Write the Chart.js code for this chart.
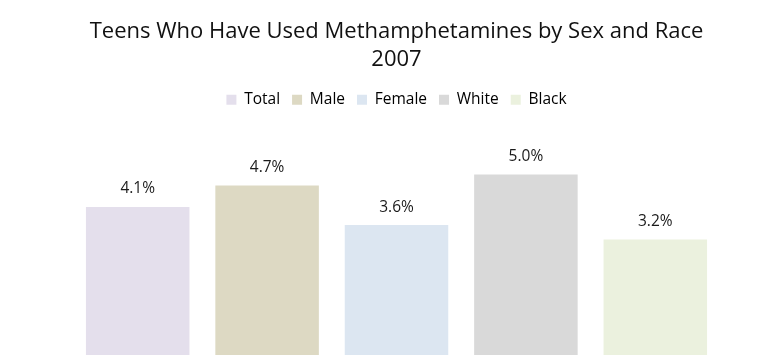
<!DOCTYPE html>
<html>
<head>
<meta charset="utf-8">
<script src="https://cdn.jsdelivr.net/npm/chart.js@4"></script>
<style>
  html, body { margin: 0; padding: 0; background: #ffffff; }
  #wrap { width: 770px; height: 356px; }
</style>
</head>
<body>
<div id="wrap"><canvas id="c" width="770" height="356"></canvas></div>
<script>
const categories = ['Total', 'Male', 'Female', 'White', 'Black'];
const percentUsed = [4.1, 4.7, 3.6, 5.0, 3.2];
const barColors = ['#E4DFEC', '#DDD9C3', '#DCE6F1', '#D9D9D9', '#EBF1DE'];
const titleLines = ['Teens Who Have Used Methamphetamines by Sex and Race', '2007'];

const FONT = '"Open Sans", Lato, sans-serif';

// Writes the percentage above each bar
const valueLabels = {
  id: 'valueLabels',
  afterDatasetsDraw(chart) {
    const ctx = chart.ctx;
    const meta = chart.getDatasetMeta(0);
    ctx.save();
    ctx.font = '15.5px ' + FONT;
    ctx.fillStyle = '#1a1a1a';
    ctx.textAlign = 'center';
    ctx.textBaseline = 'middle';
    meta.data.forEach((bar, i) => {
      ctx.fillText(percentUsed[i].toFixed(1) + '%', bar.x, bar.y - 18);
    });
    ctx.restore();
  }
};

// Extra room below the legend before the bars begin
const legendGap = {
  id: 'legendGap',
  beforeInit(chart) {
    const fit = chart.legend.fit;
    chart.legend.fit = function () {
      fit.call(this);
      this.height += 21;
    };
  }
};

new Chart(document.getElementById('c'), {
  type: 'bar',
  data: {
    labels: categories,
    datasets: [{
      label: 'Percent',
      data: percentUsed,
      backgroundColor: barColors,
      borderWidth: 0,
      barPercentage: 0.8,
      categoryPercentage: 1.0
    }]
  },
  options: {
    responsive: false,
    animation: false,
    layout: { padding: { left: 73, right: 50, top: 0, bottom: 1 } },
    scales: {
      x: { display: false },
      y: { display: false, min: 0, max: 6 }
    },
    plugins: {
      title: {
        display: true,
        text: titleLines,
        color: '#111111',
        font: { family: FONT, size: 22, weight: 'normal', lineHeight: 1.25 },
        padding: { top: 18, bottom: 7 }
      },
      legend: {
        display: true,
        position: 'top',
        labels: {
          boxWidth: 10,
          boxHeight: 10,
          padding: 12,
          color: '#111111',
          font: { family: FONT, size: 15.5 },
          generateLabels(chart) {
            return categories.map((name, i) => ({
              text: name,
              fillStyle: barColors[i],
              strokeStyle: barColors[i],
              lineWidth: 0,
              hidden: false,
              index: i
            }));
          }
        },
        onClick: null
      },
      tooltip: { enabled: false }
    }
  },
  plugins: [valueLabels, legendGap]
});
</script>
</body>
</html>
